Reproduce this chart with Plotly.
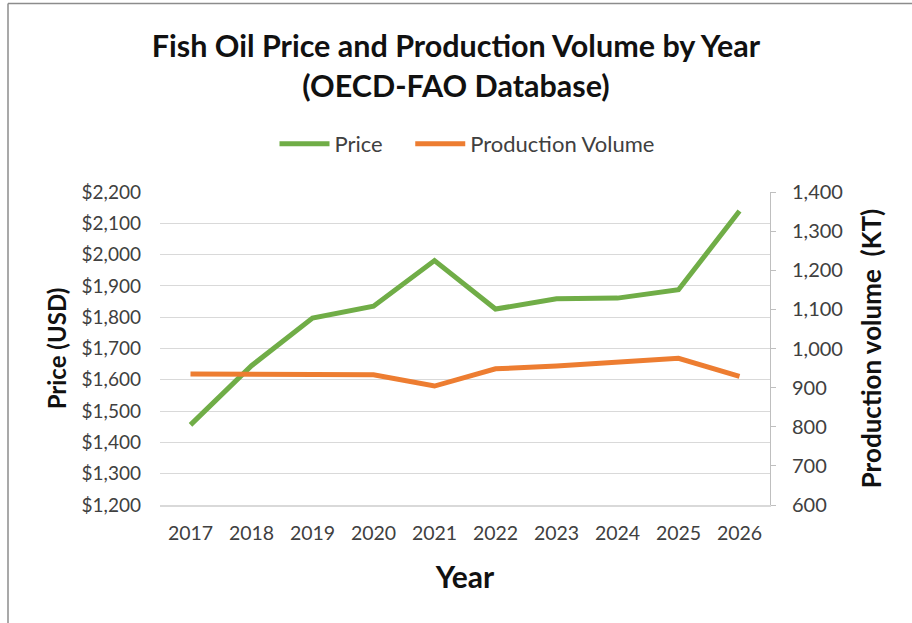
import plotly.graph_objects as go

years = ["2017", "2018", "2019", "2020", "2021", "2022", "2023", "2024", "2025", "2026"]
price = [1456, 1645, 1797, 1835, 1981, 1826, 1859, 1861, 1888, 2139]
volume = [935, 935, 933, 933, 904, 948, 955, 965, 975, 929]
price_ticks = [1200, 1300, 1400, 1500, 1600, 1700, 1800, 1900, 2000, 2100, 2200]
volume_ticks = [600, 700, 800, 900, 1000, 1100, 1200, 1300, 1400]

W, H = 912, 623
L, R, T, B = 160, 142, 192, 118
pw, ph = W - L - R, H - T - B

def px(x):
    return (x - L) / pw

def py(y):
    return (H - B - y) / ph

FONT = "Lato"
fig = go.Figure()
fig.add_trace(go.Scatter(x=years, y=price, name="Price\u00a0\u00a0\u00a0\u00a0", mode="lines",
                         line=dict(color="#70AD47", width=5), yaxis="y"))
fig.add_trace(go.Scatter(x=years, y=volume, name="Production Volume", mode="lines",
                         line=dict(color="#ED7D31", width=5), yaxis="y2"))

fig.update_layout(
    width=W, height=H,
    margin=dict(l=L, r=R, t=T, b=B),
    paper_bgcolor="white", plot_bgcolor="white",
    font=dict(family=FONT, color="#404040"),
    title=dict(text="<b>Fish Oil Price and Production Volume by Year<br>(OECD-FAO Database)</b>",
               x=0.5, xanchor="center", y=1 - 57 / H, yanchor="middle",
               font=dict(family=FONT, size=30.5, color="#111111")),
    showlegend=True,
    legend=dict(orientation="h", x=px(467), xanchor="center", y=py(144), yanchor="middle",
                font=dict(family=FONT, size=22, color="#404040"), itemwidth=50,
                traceorder="normal"),
    xaxis=dict(type="category", range=[-0.5, 9.5], showgrid=False,
               showline=True, linecolor="#D9D9D9", linewidth=1.5, ticks="",
               ticklabelstandoff=10,
               tickfont=dict(size=19.5, color="#404040"),
               title=dict(text="<b>Year</b>", font=dict(size=30, color="#111111"), standoff=24)),
    yaxis=dict(range=[1200, 2200], tickvals=price_ticks,
               ticktext=["$" + f"{v:,}" for v in price_ticks],
               showgrid=True, gridcolor="#D9D9D9", gridwidth=1.2, zeroline=False,
               showline=False, ticks="", ticklabelstandoff=18,
               tickfont=dict(size=19, color="#404040"),
               title=dict(text="<b>Price (USD)</b>", font=dict(size=24, color="#111111"), standoff=8)),
    yaxis2=dict(overlaying="y", side="right", range=[600, 1400], tickvals=volume_ticks,
                ticktext=[f"{v:,}" for v in volume_ticks],
                showgrid=False, zeroline=False, showline=True, linecolor="#BFBFBF", linewidth=1,
                ticks="outside", ticklen=5, tickcolor="#BFBFBF", ticklabelstandoff=12,
                tickfont=dict(size=20, color="#404040"),
                title=dict(text="<b>Production volume\u00a0 (KT)</b>", font=dict(size=26, color="#111111"),
                           standoff=20)),
    shapes=[
        dict(type="line", xref="paper", yref="paper", x0=px(8), x1=px(8), y0=py(3.5), y1=py(623),
             line=dict(color="#8C8C8C", width=1.5)),
        dict(type="line", xref="paper", yref="paper", x0=px(8), x1=px(912), y0=py(3.5), y1=py(3.5),
             line=dict(color="#8C8C8C", width=1.5)),
    ],
)

fig.write_html("out.html")
